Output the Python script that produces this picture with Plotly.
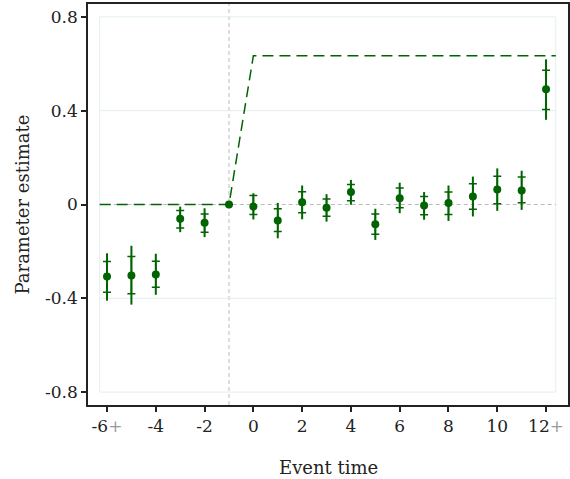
import plotly.graph_objects as go

# ---- data ----
event_time = [-6, -5, -4, -3, -2, -1, 0, 1, 2, 3, 4, 5, 6, 7, 8, 9, 10, 11, 12]
estimate = [-0.307, -0.303, -0.299, -0.061, -0.078, 0.0, -0.009, -0.068, 0.010, -0.014,
            0.053, -0.084, 0.027, -0.004, 0.006, 0.034, 0.064, 0.060, 0.491]
ci_lo = [-0.374, -0.381, -0.353, -0.100, -0.118, 0.0, -0.043, -0.115, -0.035, -0.050,
         0.016, -0.127, -0.014, -0.044, -0.043, -0.020, 0.003, 0.007, 0.405]
ci_hi = [-0.243, -0.222, -0.242, -0.026, -0.040, 0.0, 0.038, -0.018, 0.054, 0.023,
         0.085, -0.040, 0.070, 0.034, 0.053, 0.088, 0.121, 0.117, 0.573]
band_lo = [-0.410, -0.427, -0.385, -0.118, -0.139, 0.0, -0.064, -0.144, -0.063, -0.073,
           -0.001, -0.151, -0.037, -0.065, -0.070, -0.051, -0.027, -0.023, 0.361]
band_hi = [-0.208, -0.176, -0.210, -0.009, -0.016, 0.0, 0.048, 0.007, 0.081, 0.044,
           0.105, -0.018, 0.093, 0.053, 0.081, 0.119, 0.154, 0.144, 0.619]
trend_x = [-6.3, -1, 0, 12.4]
trend_y = [0.0, 0.0, 0.634, 0.634]
x_tickvals = [-6, -4, -2, 0, 2, 4, 6, 8, 10, 12]
x_ticktext = ['-6<span style="color:#999999">+</span>', '-4', '-2', '0', '2', '4', '6', '8', '10',
              '12<span style="color:#999999">+</span>']
y_tickvals = [0.8, 0.4, 0, -0.4, -0.8]
y_ticktext = ['0.8', '0.4', '0', '-0.4', '-0.8']

GREEN = '#006400'
GRID = '#e4eef0'
FONT = 'DejaVu Serif'
TXT = '#222222'

fig = go.Figure()

# light grid box
x0, x1 = trend_x[0], trend_x[-1]
for yv in [0.8, 0.4, -0.4, -0.8]:
    fig.add_shape(type='line', x0=x0, x1=x1, y0=yv, y1=yv, line=dict(color=GRID, width=1), layer='below')
for xv in [x0, x1]:
    fig.add_shape(type='line', x0=xv, x1=xv, y0=-0.8, y1=0.8, line=dict(color=GRID, width=1), layer='below')
# grey dashed reference lines
fig.add_shape(type='line', x0=x0, x1=x1, y0=0, y1=0, line=dict(color='#bbbbbb', width=1, dash='4px,3px'), layer='below')
fig.add_shape(type='line', x0=-1, x1=-1, y0=0, y1=1, yref='paper', line=dict(color='#bbbbbb', width=1, dash='4px,3px'), layer='below')

# trend dashed line
fig.add_trace(go.Scatter(x=trend_x, y=trend_y, mode='lines',
                         line=dict(color=GREEN, width=1.5, dash='11px,6px'), hoverinfo='skip'))

# outer band (no caps)
fig.add_trace(go.Scatter(
    x=event_time, y=estimate, mode='markers', marker=dict(size=1, color='rgba(0,0,0,0)'),
    error_y=dict(type='data', symmetric=False,
                 array=[h - e for h, e in zip(band_hi, estimate)],
                 arrayminus=[e - l for e, l in zip(estimate, band_lo)],
                 color=GREEN, thickness=2, width=0),
    cliponaxis=False))
# inner CI (caps)
fig.add_trace(go.Scatter(
    x=event_time, y=estimate, mode='markers', marker=dict(size=1, color='rgba(0,0,0,0)'),
    error_y=dict(type='data', symmetric=False,
                 array=[h - e for h, e in zip(ci_hi, estimate)],
                 arrayminus=[e - l for e, l in zip(estimate, ci_lo)],
                 color=GREEN, thickness=1.5, width=4),
    cliponaxis=False))
# point estimates
fig.add_trace(go.Scatter(x=event_time, y=estimate, mode='markers',
                         marker=dict(size=8, color=GREEN), cliponaxis=False))

tickfont = dict(family=FONT, size=17, color=TXT)
fig.update_layout(
    width=570, height=479,
    margin=dict(l=88, r=2, t=4, b=74, autoexpand=False),
    plot_bgcolor='white', paper_bgcolor='white',
    showlegend=False,
    font=dict(family=FONT, size=17, color=TXT),
    xaxis=dict(range=[-6.78, 12.9], tickvals=x_tickvals, ticktext=x_ticktext, tickfont=tickfont,
               showgrid=False, zeroline=False, showline=True, mirror=True, automargin=False,
               linecolor=TXT, linewidth=1.5, ticks='outside', ticklen=5,
               tickcolor=TXT, tickwidth=1.5),
    yaxis=dict(range=[-0.855, 0.855], tickvals=y_tickvals, ticktext=y_ticktext, tickfont=tickfont,
               showgrid=False, zeroline=False, showline=True, mirror=True, automargin=False,
               linecolor=TXT, linewidth=1.5, ticks='outside', ticklen=5,
               tickcolor=TXT, tickwidth=1.5),
    annotations=[
        dict(text='Event time', xref='paper', yref='paper', x=0.5, y=0, yshift=-62,
             xanchor='center', yanchor='middle', showarrow=False,
             font=dict(family=FONT, size=18, color=TXT)),
        dict(text='Parameter estimate', xref='paper', yref='paper', x=0, y=0.5, xshift=-66,
             xanchor='center', yanchor='middle', textangle=-90, showarrow=False,
             font=dict(family=FONT, size=18, color=TXT)),
    ],
)

fig.write_html('out.html')
